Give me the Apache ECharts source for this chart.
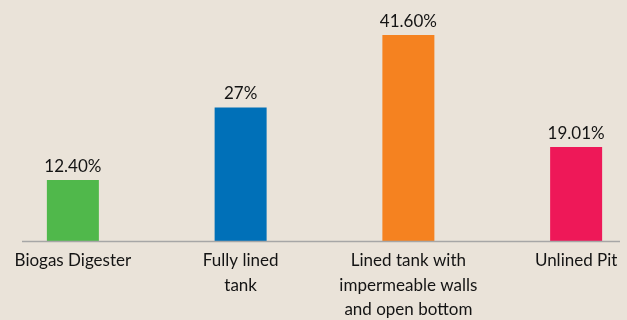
<!DOCTYPE html>
<html>
<head>
<meta charset="utf-8">
<script src="https://cdn.jsdelivr.net/npm/echarts@6/dist/echarts.min.js"></script>
<style>
  html, body { margin: 0; padding: 0; background: #eae3d9; overflow: hidden; }
  /* the plot spans a little wider than the page, so the outer bars sit near the edges */
  #chart { width: 700px; height: 320px; margin-left: -11px; }
</style>
</head>
<body>
<div id="chart"></div>
<script>
// Containment types and their shares
const categories = [
  'Biogas Digester',
  'Fully lined\ntank',
  'Lined tank with\nimpermeable walls\nand open bottom',
  'Unlined Pit'
];
const shares = [12.40, 27, 41.60, 19.01];
const shareLabels = ['12.40%', '27%', '41.60%', '19.01%'];
const barColors = ['#50b84b', '#0070b8', '#f58220', '#ee1858'];

const FONT = 'Lato, "Open Sans", sans-serif';

const chart = echarts.init(document.getElementById('chart'));
chart.setOption({
  backgroundColor: '#eae3d9',
  animation: false,
  grid: {
    left: 0, width: 671, top: 18, bottom: 78.5,
    containLabel: false,
    outerBoundsMode: 'none'
  },
  xAxis: {
    type: 'category',
    data: categories,
    axisLine: { show: false },
    axisTick: { show: false },
    axisLabel: {
      interval: 0,
      margin: 7,
      color: '#141414',
      fontFamily: FONT,
      fontSize: 17,
      lineHeight: 24.5,
      align: 'center'
    }
  },
  yAxis: {
    type: 'value',
    min: 0,
    max: 45,
    show: false,
    splitLine: { show: false }
  },
  series: [{
    type: 'bar',
    barWidth: 52,
    data: shares.map((v, i) => ({
      value: v,
      itemStyle: { color: barColors[i] },
      label: { formatter: shareLabels[i] }
    })),
    label: {
      show: true,
      position: 'top',
      distance: 5,
      color: '#141414',
      fontFamily: FONT,
      fontSize: 17
    }
  }],
  graphic: [{
    type: 'line',
    shape: { x1: 33, y1: 241.5, x2: 631, y2: 241.5 },
    style: { stroke: '#a6a6a6', lineWidth: 1.5 },
    z: 100
  }]
});
</script>
</body>
</html>
